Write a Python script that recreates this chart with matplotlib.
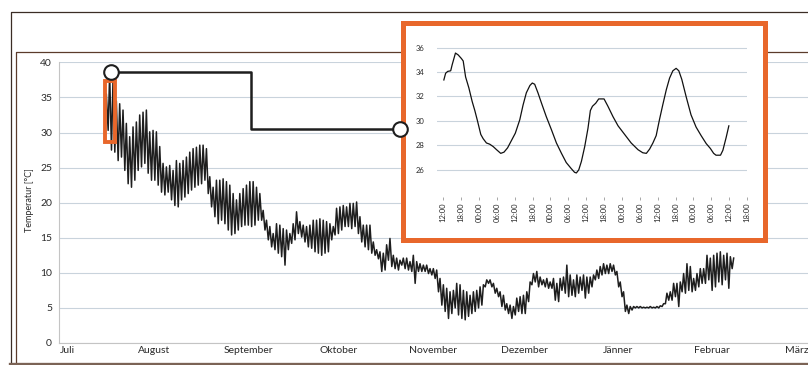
import numpy as np
import matplotlib
matplotlib.use("Agg")
import matplotlib.pyplot as plt
from matplotlib.lines import Line2D
from matplotlib.patches import Rectangle

plt.rcParams['font.family'] = ['Lato', 'DejaVu Sans']

# ---- month axis (days after 1 July) ----
months = ["Juli", "August", "September", "Oktober", "November",
          "Dezember", "Jänner", "Februar", "März"]
month_start_day = [0, 31, 62, 92, 123, 153, 184, 215, 243]

# ---- daily temperature extremes [°C], one sample about every 1.1 days ----
sample_start = 14.8   # days after 1 July
sample_step = 1.1

daily_max = [
    35.5, 38.4, 37.4, 34.5, 34.1, 33.2, 31.3, 29.4, 30.8, 31.5,
    32.5, 32.9, 33.2, 30.1, 30.3, 30.1, 28.0, 25.6, 25.1, 25.3,
    24.6, 26.0, 25.6, 26.0, 26.5, 27.2, 27.7, 27.9, 28.2, 28.2,
    27.7, 23.7, 22.2, 23.2, 23.2, 23.4, 23.0, 22.5, 21.3, 20.4,
    21.3, 22.0, 22.5, 23.0, 23.0, 22.2, 21.3, 18.9, 17.5, 16.6,
    15.6, 17.0, 16.8, 16.3, 16.1, 15.6, 17.0, 18.7, 17.3, 16.8,
    16.6, 16.8, 17.5, 17.5, 17.7, 17.5, 17.3, 17.0, 16.6, 19.2,
    19.4, 19.6, 19.4, 19.9, 19.9, 20.1, 18.0, 16.8, 16.8, 16.8,
    14.4, 13.3, 13.0, 12.8, 14.0, 14.9, 12.5, 12.1, 11.8,
    12.1, 12.1, 11.6, 12.5, 11.6, 11.3, 11.1, 11.1, 10.6, 10.6,
    10.4, 9.2, 8.3, 7.8, 7.3, 7.5, 8.5, 8.3, 7.5, 7.3,
    6.8, 7.3, 7.5, 8.0, 8.3, 9.0, 9.0, 8.5, 7.8, 7.3,
    6.8, 5.6, 5.4, 5.2, 6.4, 6.6, 6.8, 7.3, 8.7, 9.9,
    10.2, 9.4, 9.0, 9.2, 8.7, 9.2, 8.5, 9.2, 9.4, 11.1,
    9.7, 9.0, 9.7, 9.4, 9.7, 9.4, 9.4, 9.7, 10.4, 10.9,
    11.3, 11.1, 11.3, 11.1, 10.2, 8.7, 7.3, 5.4, 5.2, 5.2,
    5.2, 5.2, 5.1, 5.1, 5.2, 5.1, 5.2, 5.3, 5.6, 7.1,
    7.3, 8.5, 8.5, 8.7, 9.9, 11.3, 10.9, 9.2, 9.9, 10.6,
    10.6, 12.5, 12.1, 12.5, 12.8, 13.0, 12.5, 12.8, 12.3, 12.1,
]
daily_min = [
    32.0, 30.3, 27.5, 27.2, 26.0, 26.5, 24.6, 22.7, 22.2, 23.2,
    24.6, 25.1, 25.6, 24.2, 23.2, 23.2, 22.5, 21.5, 21.1, 21.5,
    20.4, 19.6, 19.4, 20.4, 20.8, 21.3, 21.8, 22.2, 22.5, 22.7,
    23.2, 21.3, 19.4, 18.0, 17.0, 17.5, 17.0, 16.1, 15.4, 15.6,
    16.1, 16.6, 16.8, 16.8, 16.6, 16.8, 17.5, 17.5, 16.1, 14.7,
    13.7, 13.3, 12.8, 12.3, 11.1, 13.3, 14.2, 14.7, 15.6, 15.1,
    14.4, 13.7, 13.5, 13.0, 12.8, 12.5, 12.8, 13.0, 14.7, 15.4,
    15.6, 16.1, 16.6, 16.6, 16.3, 16.6, 15.6, 14.4, 13.7, 13.3,
    12.8, 12.5, 12.0, 10.2, 10.4, 11.8, 10.9, 10.6, 10.4,
    11.1, 10.6, 10.4, 10.2, 8.5, 10.2, 10.2, 10.2, 9.9, 9.7,
    9.2, 7.3, 5.4, 4.5, 3.5, 4.2, 5.0, 4.0, 3.5, 3.3,
    3.8, 4.2, 4.5, 5.0, 5.4, 8.0, 8.5, 8.0, 7.1, 6.6,
    5.2, 4.7, 4.2, 3.5, 4.0, 4.5, 4.2, 4.2, 5.9, 8.3,
    8.7, 8.0, 8.3, 8.0, 7.8, 7.8, 6.1, 5.9, 7.5, 7.1,
    6.6, 6.8, 6.6, 7.1, 7.5, 6.4, 7.1, 8.0, 9.0, 9.2,
    9.7, 9.9, 9.9, 10.2, 9.7, 8.0, 6.6, 4.5, 4.2, 4.7,
    5.0, 5.0, 5.0, 5.0, 5.0, 5.0, 5.0, 5.0, 5.2, 5.6,
    6.1, 6.1, 6.6, 5.2, 7.3, 7.1, 7.5, 7.3, 7.5, 8.0,
    8.5, 8.5, 9.0, 7.5, 8.0, 8.7, 8.3, 9.0, 7.8, 10.6,
]

# ---- four-day detail (hours after the first 12:00) ----
inset_hours = [
    0.2, 0.8, 1.5, 2.5, 3.0, 4.1, 5.0, 6.1, 6.7, 7.5, 8.6, 9.7, 10.6, 11.5,
    12.6, 13.4, 14.5, 15.6, 16.8, 17.9, 19.3, 20.4, 21.6, 22.9, 24.2, 25.7,
    26.8, 27.9, 29.1, 29.9, 30.7, 31.8, 33.0, 34.6, 36.3, 38.0, 39.7, 41.3,
    43.0, 44.1, 44.7, 45.5, 46.4, 47.5, 48.6, 49.4, 50.1, 51.2, 52.2, 54.0,
    55.3, 57.0, 58.7, 60.9, 63.1, 65.4, 67.0, 68.2, 69.3, 70.4, 71.5, 72.6,
    73.7, 74.9, 76.0, 77.1, 78.2, 79.1, 80.1, 81.6, 83.2, 84.9, 86.6, 88.3,
    89.7, 90.8, 91.6, 93.1, 93.9, 95.0, 95.9,
]
inset_temp = [
    33.35, 33.9, 34.05, 34.1, 34.6, 35.55, 35.4, 35.1, 34.9, 33.6, 32.7, 31.6,
    30.85, 30.0, 28.9, 28.55, 28.2, 28.1, 27.9, 27.65, 27.35, 27.45, 27.8,
    28.4, 29.0, 30.1, 31.3, 32.3, 32.9, 33.1, 33.0, 32.3, 31.45, 30.35, 29.3,
    28.2, 27.35, 26.6, 26.1, 25.8, 25.75, 26.0, 26.7, 27.9, 29.4, 30.85, 31.2,
    31.45, 31.8, 31.8, 31.2, 30.35, 29.6, 28.9, 28.2, 27.65, 27.4, 27.35,
    27.7, 28.2, 28.8, 30.1, 31.3, 32.55, 33.5, 34.1, 34.3, 34.1, 33.4, 31.95,
    30.5, 29.5, 28.8, 28.15, 27.75, 27.35, 27.2, 27.2, 27.6, 28.65, 29.6,
]
inset_tick_labels = ["12:00", "18:00", "00:00", "06:00"] * 4 + ["12:00", "18:00"]
inset_yticks = [26, 28, 30, 32, 34, 36]
main_yticks = [0, 5, 10, 15, 20, 25, 30, 35, 40]

GRID = '#c9d3dc'
ORANGE = '#e8672b'
INK = '#1e1e1e'
TXT = '#2a2a2a'

W, H = 808, 365
fig = plt.figure(figsize=(W / 100, H / 100), dpi=100)


def fx(px):
    return px / W


def fy(py):
    return 1 - py / H


# ---- main chart ----
ax = fig.add_axes([fx(59), fy(343), fx(808) - fx(59), fy(62) - fy(343)])
t = sample_start + sample_step * np.arange(len(daily_max))
xs = np.column_stack([t, t + 0.5]).ravel()
ys = np.column_stack([daily_min, daily_max]).ravel()
ax.plot(xs, ys, color=INK, lw=1.1, zorder=2)

ax.set_xlim(-0.3, 246.6)
ax.set_ylim(0, 40.05)
ax.set_yticks(main_yticks)
ax.set_xticks(month_start_day, months)
ax.grid(axis='y', color=GRID, lw=0.8)
ax.set_axisbelow(True)
for side in ('top', 'right'):
    ax.spines[side].set_visible(False)
for side in ('left', 'bottom'):
    ax.spines[side].set_color('#c4c4c4')
    ax.spines[side].set_linewidth(0.8)
ax.tick_params(axis='y', length=0, pad=5, labelsize=7.5, labelcolor=TXT)
ax.tick_params(axis='x', length=0, pad=2, labelsize=7.5, labelcolor=TXT)
xl = ax.get_xticklabels()
xl[0].set_ha('left')

# highlighted four-day window
ax.add_patch(Rectangle((14.9, 28.6), 3.2, 8.8, fill=False, ec=ORANGE, lw=2.8, zorder=3))

fig.text(fx(30), fy(200), "Temperatur [°C]", rotation=90, ha='center', va='center',
         fontsize=6.5, color=TXT)

# ---- page frame lines ----
fig.add_artist(Line2D([fx(10.5), fx(10.5), fx(808)], [fy(365), fy(11.5), fy(11.5)],
                      transform=fig.transFigure, color='#3b2d25', lw=0.9, zorder=1))
fig.add_artist(Line2D([fx(15.5), fx(15.5), fx(808)], [fy(362), fy(51.5), fy(51.5)],
                      transform=fig.transFigure, color='#5b3b2b', lw=0.9, zorder=1))
fig.add_artist(Line2D([fx(10), fx(808)], [fy(363.6), fy(363.6)],
                      transform=fig.transFigure, color='#7b6355', lw=2.4, zorder=1))

# ---- inset box ----
fig.add_artist(Rectangle((fx(402.5), fy(239.5)), fx(764.5) - fx(402.5), fy(22.5) - fy(239.5),
                         transform=fig.transFigure, facecolor='white', edgecolor=ORANGE,
                         lw=3.6, zorder=2))

axi = fig.add_axes([fx(437), fy(196.8), fx(747) - fx(437), fy(40.2) - fy(196.8)], zorder=3)
axi.set_facecolor('none')
axi.plot(inset_hours, inset_temp, color='#111111', lw=0.9)
axi.set_xlim(-2.1, 102)
axi.set_ylim(23.8, 36.6)
axi.set_yticks(inset_yticks)
axi.set_xticks(np.arange(0, 103, 6), inset_tick_labels, rotation=90)
axi.grid(axis='y', color=GRID, lw=0.8)
axi.set_axisbelow(True)
for s in axi.spines.values():
    s.set_visible(False)
axi.tick_params(axis='x', length=2.5, width=0.6, color='#999999', pad=1.5,
                labelsize=5.5, labelcolor=TXT)
axi.tick_params(axis='y', length=0, pad=9, labelsize=5.5, labelcolor=TXT)

# ---- connector between window and inset ----
cx = [16.7, 63.0, 63.0, 112.1]
cy = [38.6, 38.6, 30.5, 30.5]
fig.add_artist(Line2D(cx, cy, transform=ax.transData, color=INK, lw=1.8, zorder=4))
fig.add_artist(Line2D([cx[0], cx[-1]], [cy[0], cy[-1]], transform=ax.transData, ls='none',
                      marker='o', ms=10.5, mfc='white', mec=INK, mew=1.5, zorder=5))

fig.savefig("out.png", dpi=100)
